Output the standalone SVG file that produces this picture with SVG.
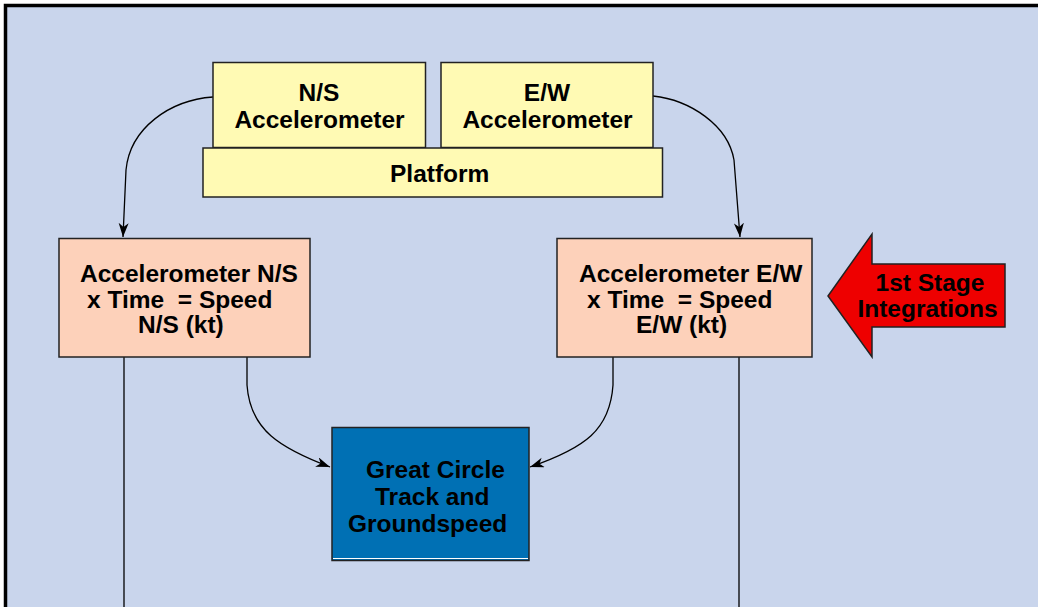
<svg xmlns="http://www.w3.org/2000/svg" width="1038" height="607" viewBox="0 0 1038 607">
<defs>
<style>
.box{stroke:#222;stroke-width:1.5}
.yel{fill:#fffab4}
.sal{fill:#fdd1ba}
.t{font-family:"Liberation Sans",Arial,sans-serif;font-weight:bold;font-size:24.5px;fill:#000;white-space:pre}
.c{stroke:#000;stroke-width:1.3;fill:none}
</style>
<marker id="ah" markerUnits="userSpaceOnUse" markerWidth="16" markerHeight="12" refX="14" refY="5" orient="auto">
<path d="M0,0 L14,5 L0,10 L4,5 z" fill="#000"/>
</marker>
</defs>
<rect x="0" y="0" width="1038" height="607" fill="#ffffff"/>
<rect x="5.5" y="5.5" width="1040" height="610" fill="#c9d5ec" stroke="#000" stroke-width="3.5"/>

<g id="connectors">
<path class="c" d="M213,97 C170,100 130,128 126,170 L123,237" marker-end="url(#ah)"/>
<path class="c" d="M653,96 C690,100 728,125 734,160 L740,237" marker-end="url(#ah)"/>
<path class="c" d="M247,357 L247,385 C250,430 280,448 330,467" marker-end="url(#ah)"/>
<path class="c" d="M613,357 L613,385 C610,430 585,448 530,467" marker-end="url(#ah)"/>
<line class="c" x1="124" y1="357" x2="124" y2="607"/>
<line class="c" x1="739" y1="357" x2="739" y2="607"/>
</g>

<g id="ns-accel">
<rect class="box yel" x="213" y="62.5" width="212.5" height="85"/>
<text class="t" x="319" y="101" text-anchor="middle">N/S</text>
<text class="t" x="319.5" y="127.5" text-anchor="middle">Accelerometer</text>
</g>

<g id="ew-accel">
<rect class="box yel" x="441" y="62.5" width="212" height="85"/>
<text class="t" x="547" y="101" text-anchor="middle">E/W</text>
<text class="t" x="547.5" y="127.5" text-anchor="middle">Accelerometer</text>
</g>

<g id="platform">
<rect class="box yel" x="203" y="148" width="459.5" height="49"/>
<text class="t" x="390" y="182">Platform</text>
</g>

<g id="ns-speed">
<rect class="box sal" x="59" y="238.5" width="251" height="118.5"/>
<text class="t" x="80" y="282">Accelerometer N/S</text>
<text class="t" x="87" y="307.5" xml:space="preserve">x Time  = Speed</text>
<text class="t" x="138" y="333">N/S (kt)</text>
</g>

<g id="ew-speed">
<rect class="box sal" x="557" y="238.5" width="255" height="118.5"/>
<text class="t" x="579" y="282">Accelerometer E/W</text>
<text class="t" x="587" y="307.5" xml:space="preserve">x Time  = Speed</text>
<text class="t" x="636" y="333">E/W (kt)</text>
</g>

<g id="great-circle">
<rect class="box" x="332" y="427.5" width="197" height="133" fill="#0070b4"/>
<line x1="333" y1="558.5" x2="528" y2="558.5" stroke="#ffffff" stroke-width="1"/>
<text class="t" x="366" y="478">Great Circle</text>
<text class="t" x="375" y="505">Track and</text>
<text class="t" x="348" y="532">Groundspeed</text>
</g>

<g id="stage-arrow">
<path d="M828,296 L872,234 L872,264 L1005,264 L1005,327 L872,327 L872,357 Z" fill="#ee0000" stroke="#222" stroke-width="1.5"/>
<text class="t" x="930" y="291" text-anchor="middle">1st Stage</text>
<text class="t" x="927.5" y="317" text-anchor="middle">Integrations</text>
</g>
</svg>
